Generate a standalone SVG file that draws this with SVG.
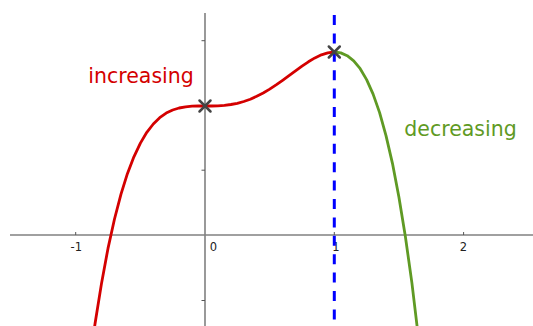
<svg xmlns="http://www.w3.org/2000/svg" width="533" height="326" viewBox="0 0 533 326">
<style>
.axis{stroke:#808080;stroke-width:1.6;fill:none}
.tick{stroke:#555;stroke-width:1;fill:none}
.tl{font-family:"DejaVu Sans",sans-serif;font-size:11.5px;fill:#222}
.curve{fill:none;stroke-width:2.8;stroke-linejoin:round;stroke-linecap:round}
.lbl{font-family:"DejaVu Sans",sans-serif;font-size:20.5px}
.pt{stroke:#444;stroke-width:2.5;stroke-linecap:round}
</style>
<rect width="533" height="326" fill="#fff"/>
<g id="axes">
<line class="axis" x1="10" y1="235" x2="533" y2="235"/>
<line class="axis" x1="205" y1="13" x2="205" y2="326"/>
<path class="tick" d="M75.7,235V232M334.3,235V232M463.6,235V232M205,40.7H201.5M205,105.5H201.5M205,170.2H201.5M205,300.5H201.5"/>
<text class="tl" x="76.3" y="251" text-anchor="middle">-1</text>
<text class="tl" x="213.4" y="251" text-anchor="middle">0</text>
<text class="tl" x="335.8" y="251" text-anchor="middle">1</text>
<text class="tl" x="463.3" y="251" text-anchor="middle">2</text>
</g>
<g id="connectors">
<line x1="334.3" y1="15" x2="334.3" y2="326" stroke="#0000ff" stroke-width="3" stroke-dasharray="10 8.4"/>
<polyline class="curve" stroke="#d40000" points="88.6,369.7 95.1,323.2 101.6,282.9 108.0,248.4 114.5,219.0 121.0,194.2 127.4,173.7 133.9,156.8 140.4,143.1 146.8,132.3 153.3,124.0 159.7,117.7 166.2,113.1 172.7,110.0 179.1,108.0 185.6,106.8 192.1,106.2 198.5,106.0 205,106 211.5,106.0 217.9,105.8 224.4,105.4 230.9,104.5 237.3,103.3 243.8,101.5 250.3,99.2 256.7,96.3 263.2,93.0 269.7,89.1 276.1,84.9 282.6,80.3 289.0,75.6 295.5,70.8 302.0,66.1 308.4,61.8 314.9,57.9 321.4,54.8 327.8,52.8 334.3,52.0"/>
<polyline class="curve" stroke="#5f9a24" points="334.3,52.0 340.8,52.9 347.2,55.7 353.7,60.8 360.2,68.7 366.6,79.6 373.1,94.1 379.6,112.6 386.0,135.6 392.5,163.6 398.9,197.1 405.4,236.7 411.9,282.9 418.3,336.4"/>
</g>
<g id="point-a">
<path class="pt" d="M199.5,100.5L210.5,111.5M210.5,100.5L199.5,111.5"/>
</g>
<g id="point-b">
<path class="pt" d="M328.8,46.5L339.8,57.5M339.8,46.5L328.8,57.5"/>
</g>
<g id="label-increasing">
<text class="lbl" x="88.3" y="83.3" fill="#d40000">increasing</text>
</g>
<g id="label-decreasing">
<text class="lbl" x="404.3" y="136" fill="#5f9a24">decreasing</text>
</g>
</svg>
